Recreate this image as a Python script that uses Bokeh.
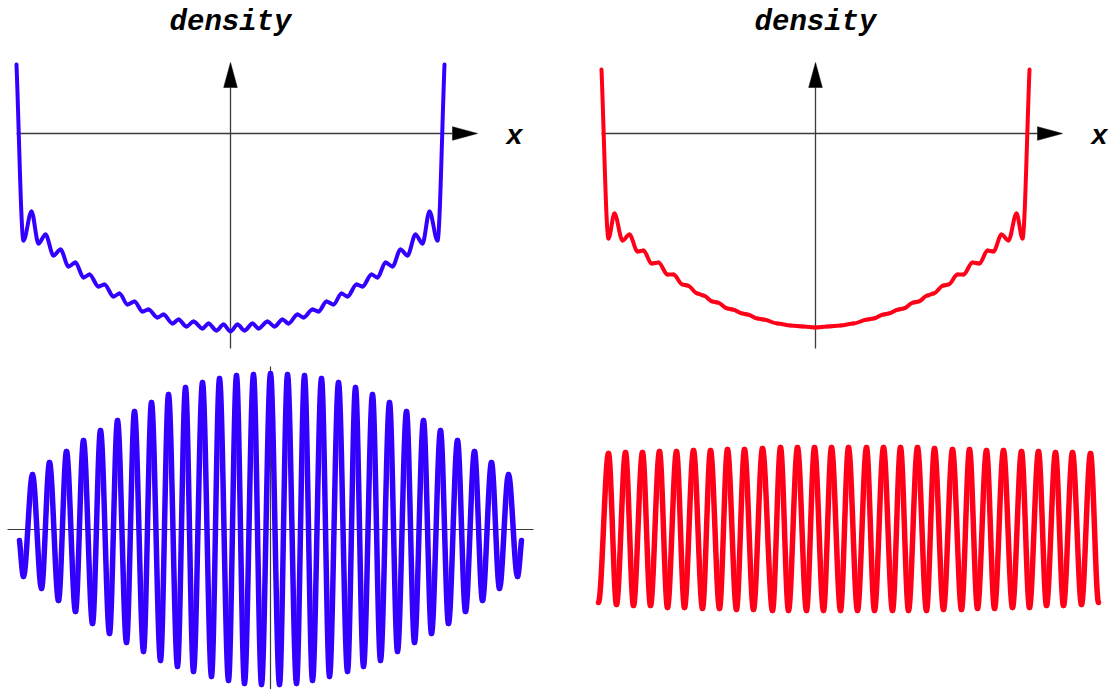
from bokeh.plotting import figure
from bokeh.layouts import column, row
from bokeh.models import Range1d, ColumnDataSource
from bokeh.embed import file_html
from bokeh.resources import INLINE
from bokeh.core.properties import value

# ---------------------------------------------------------------------------
# Data
# Upper row: position densities, listed at their successive local extrema
# (x in plot units, density in arbitrary units). The first and last points
# are the steep rise at the turning points.
density_q_x = [-2.14, -2.07, -1.99, -1.92, -1.85, -1.77, -1.70, -1.62, -1.55, -1.47,
               -1.41, -1.32, -1.26, -1.17, -1.11, -1.03, -0.96, -0.88, -0.82, -0.73,
               -0.67, -0.58, -0.52, -0.44, -0.37, -0.28, -0.22, -0.14, -0.07, 0.00,
               0.07, 0.14, 0.22, 0.28, 0.37, 0.44, 0.52, 0.58, 0.67, 0.73,
               0.82, 0.88, 0.96, 1.03, 1.11, 1.17, 1.26, 1.32, 1.41, 1.47,
               1.55, 1.62, 1.70, 1.77, 1.85, 1.92, 1.99, 2.07, 2.14]
density_q_y = [2.84, 1.08, 1.37, 1.05, 1.14, 0.93, 0.99, 0.82, 0.86, 0.71,
               0.74, 0.62, 0.64, 0.52, 0.55, 0.44, 0.47, 0.37, 0.39, 0.31,
               0.34, 0.25, 0.29, 0.22, 0.27, 0.20, 0.25, 0.18, 0.24, 0.17,
               0.24, 0.18, 0.25, 0.20, 0.27, 0.22, 0.29, 0.25, 0.34, 0.31,
               0.39, 0.37, 0.47, 0.44, 0.55, 0.52, 0.64, 0.62, 0.74, 0.71,
               0.86, 0.82, 0.99, 0.93, 1.14, 1.05, 1.37, 1.08, 2.84]

density_c_x = [-2.14, -2.07, -2.01, -1.93, -1.86, -1.78, -1.72, -1.64, -1.57, -1.48,
               -1.42, -1.33, -1.28, -1.18, -1.12, -1.03, -0.98, -0.88, -0.83, -0.73,
               -0.68, -0.58, -0.52, -0.38, -0.25, -0.12, 0.00,
               0.12, 0.25, 0.38, 0.52, 0.58, 0.68, 0.73, 0.83, 0.88, 0.98,
               1.03, 1.12, 1.18, 1.28, 1.33, 1.42, 1.48, 1.57, 1.64, 1.72,
               1.78, 1.86, 1.93, 2.01, 2.07, 2.14]
density_c_y = [2.79, 1.10, 1.35, 1.08, 1.14, 0.97, 0.98, 0.85, 0.86, 0.74,
               0.74, 0.64, 0.63, 0.55, 0.53, 0.47, 0.46, 0.40, 0.39, 0.35,
               0.34, 0.30, 0.29, 0.25, 0.23, 0.22, 0.21,
               0.22, 0.23, 0.25, 0.29, 0.30, 0.34, 0.35, 0.39, 0.40, 0.46,
               0.47, 0.53, 0.55, 0.63, 0.64, 0.74, 0.74, 0.86, 0.85, 0.98,
               0.97, 1.14, 1.08, 1.35, 1.10, 2.79]

# Lower row: wave amplitudes at their successive maxima and minima.
wave_q_x = [-2.51, -2.47, -2.38, -2.29, -2.21, -2.12, -2.04, -1.95, -1.87, -1.78,
            -1.70, -1.61, -1.53, -1.44, -1.36, -1.27, -1.19, -1.10, -1.02, -0.93,
            -0.85, -0.77, -0.68, -0.59, -0.51, -0.42, -0.34, -0.26, -0.17, -0.09,
            0.00,
            0.09, 0.17, 0.26, 0.34, 0.42, 0.51, 0.59, 0.68, 0.77, 0.85,
            0.93, 1.02, 1.10, 1.19, 1.27, 1.36, 1.44, 1.53, 1.61, 1.70,
            1.78, 1.87, 1.95, 2.04, 2.12, 2.21, 2.29, 2.38, 2.47, 2.51]
wave_q_y = [-0.11, -0.47, 0.55, -0.59, 0.67, -0.71, 0.78, -0.82, 0.89, -0.94,
            0.99, -1.04, 1.09, -1.13, 1.18, -1.22, 1.27, -1.31, 1.35, -1.37,
            1.42, -1.42, 1.47, -1.47, 1.51, -1.51, 1.54, -1.54, 1.55, -1.55,
            1.56,
            -1.55, 1.55, -1.54, 1.54, -1.51, 1.51, -1.47, 1.47, -1.42, 1.42,
            -1.37, 1.35, -1.31, 1.27, -1.22, 1.18, -1.13, 1.09, -1.04, 0.99,
            -0.94, 0.89, -0.82, 0.78, -0.71, 0.67, -0.59, 0.55, -0.47, -0.11]

wave_c_x = [-2.50, -2.40, -2.32, -2.23, -2.15, -2.06, -1.98, -1.89, -1.81, -1.72,
            -1.64, -1.55, -1.46, -1.38, -1.29, -1.21, -1.12, -1.04, -0.95, -0.86,
            -0.76, -0.68, -0.60, -0.51, -0.42, -0.34, -0.25, -0.17, -0.08, 0.00,
            0.09, 0.18, 0.26, 0.35, 0.44, 0.52, 0.60, 0.69, 0.78, 0.86,
            0.95, 1.04, 1.13, 1.21, 1.29, 1.38, 1.46, 1.55, 1.64, 1.73,
            1.81, 1.90, 1.98, 2.07, 2.15, 2.24, 2.33, 2.42, 2.50]
wave_c_y = [-0.73, 0.76, -0.75, 0.77, -0.76, 0.77, -0.76, 0.78, -0.78, 0.78,
            -0.78, 0.79, -0.79, 0.79, -0.79, 0.80, -0.80, 0.80, -0.80, 0.81,
            -0.81, 0.82, -0.81, 0.82, -0.81, 0.82, -0.81, 0.82, -0.81, 0.82,
            -0.81, 0.82, -0.81, 0.82, -0.81, 0.82, -0.81, 0.82, -0.81, 0.81,
            -0.80, 0.80, -0.80, 0.80, -0.79, 0.79, -0.79, 0.79, -0.78, 0.78,
            -0.78, 0.78, -0.76, 0.77, -0.76, 0.77, -0.75, 0.76, -0.73]

title_text = "density"
axis_text = "x"

BLUE = "#3300ff"
RED = "#ff0018"
AXIS = "#3a3a3a"
TEXT_FONT = value("Liberation Mono")


def extrema_curve(xs, ys, free_start=False, free_end=False):
    """Cubic segments between neighbouring extrema, flat at each extremum."""
    n = len(xs)
    d = {k: [] for k in ("x0", "y0", "x1", "y1", "cx0", "cy0", "cx1", "cy1")}
    for i in range(n - 1):
        xa, ya, xb, yb = xs[i], ys[i], xs[i + 1], ys[i + 1]
        dx, dy = xb - xa, yb - ya
        cy0 = ya + dy / 3 if (free_start and i == 0) else ya
        cy1 = yb - dy / 3 if (free_end and i == n - 2) else yb
        d["x0"].append(xa); d["y0"].append(ya)
        d["x1"].append(xb); d["y1"].append(yb)
        d["cx0"].append(xa + dx / 3); d["cy0"].append(cy0)
        d["cx1"].append(xb - dx / 3); d["cy1"].append(cy1)
    return ColumnDataSource(d)


def panel(w, h, xr, yr):
    p = figure(width=w, height=h, x_range=Range1d(*xr), y_range=Range1d(*yr),
               output_backend="svg", toolbar_location=None,
               x_axis_location=None, y_axis_location=None, min_border=0)
    p.grid.visible = False
    p.outline_line_color = None
    p.background_fill_color = "white"
    p.border_fill_color = "white"
    return p


def arrow_axes(p, x_left, x_tip, y_bottom, y_tip, y_cross):
    head_len, head_half = 0.25, 0.068
    p.segment(x0=[x_left], y0=[y_cross], x1=[x_tip - head_len], y1=[y_cross],
              line_color=AXIS, line_width=1.3)
    p.segment(x0=[0], y0=[y_bottom], x1=[0], y1=[y_tip - head_len],
              line_color=AXIS, line_width=1.3)
    p.patch(x=[x_tip, x_tip - head_len, x_tip - head_len],
            y=[y_cross, y_cross + head_half, y_cross - head_half],
            fill_color="black", line_color="black", line_width=0.5)
    p.patch(x=[0, -head_half, head_half],
            y=[y_tip, y_tip - head_len, y_tip - head_len],
            fill_color="black", line_color="black", line_width=0.5)


def labels(p):
    p.text(x=[0], y=[3.26], text=[title_text], text_align="center",
           text_baseline="alphabetic", text_font=TEXT_FONT,
           text_font_style="bold italic", text_font_size="29px", text_color="black")
    p.text(x=[2.84], y=[2.12], text=[axis_text], text_align="center",
           text_baseline="alphabetic", text_font=TEXT_FONT,
           text_font_style="bold italic", text_font_size="28px", text_color="black")


# Upper left: density with interference ripples
p_tl = panel(557, 350, (-2.30, 3.27), (-0.02, 3.48))
arrow_axes(p_tl, -2.14, 2.47, 0.0, 2.86, 2.15)
p_tl.bezier(x0="x0", y0="y0", x1="x1", y1="y1", cx0="cx0", cy0="cy0",
            cx1="cx1", cy1="cy1",
            source=extrema_curve(density_q_x, density_q_y, True, True),
            line_color=BLUE, line_width=4, line_cap="round")
labels(p_tl)

# Upper right: smoothed density
p_tr = panel(558, 350, (-2.58, 3.00), (-0.02, 3.48))
arrow_axes(p_tr, -2.14, 2.47, 0.0, 2.86, 2.15)
p_tr.bezier(x0="x0", y0="y0", x1="x1", y1="y1", cx0="cx0", cy0="cy0",
            cx1="cx1", cy1="cy1",
            source=extrema_curve(density_c_x, density_c_y, True, True),
            line_color=RED, line_width=4, line_cap="round")
labels(p_tr)

# Lower left: wave with bell-shaped envelope, plain axes
p_bl = panel(557, 339, (-2.70, 2.87), (-1.60, 1.79))
p_bl.segment(x0=[-2.63], y0=[0], x1=[2.63], y1=[0], line_color=AXIS, line_width=1.2)
p_bl.segment(x0=[0], y0=[-1.60], x1=[0], y1=[1.63], line_color=AXIS, line_width=1.2)
p_bl.bezier(x0="x0", y0="y0", x1="x1", y1="y1", cx0="cx0", cy0="cy0",
            cx1="cx1", cy1="cy1",
            source=extrema_curve(wave_q_x, wave_q_y, True, True),
            line_color=BLUE, line_width=5.5, line_cap="round")

# Lower right: wave of nearly constant amplitude
p_br = panel(558, 339, (-2.91, 2.67), (-1.60, 1.79))
p_br.bezier(x0="x0", y0="y0", x1="x1", y1="y1", cx0="cx0", cy0="cy0",
            cx1="cx1", cy1="cy1",
            source=extrema_curve(wave_c_x, wave_c_y),
            line_color=RED, line_width=5.5, line_cap="round")

layout = column(row(p_tl, p_tr), row(p_bl, p_br))

with open("out.html", "w") as f:
    f.write(file_html(layout, INLINE))
